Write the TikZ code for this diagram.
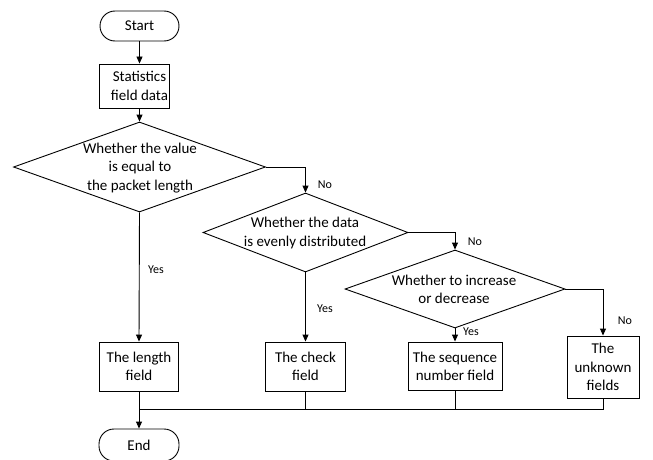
\documentclass[tikz,border=0pt]{standalone}
\usepackage{fontspec}
\setmainfont{Carlito}
\usetikzlibrary{shapes.geometric,arrows.meta}
\begin{document}
\begin{tikzpicture}[x=1pt,y=-1pt,
  line width=0.9pt,
  every node/.style={font=\fontsize{15}{18.3}\selectfont},
  box/.style={draw, align=center, inner sep=0pt},
  term/.style={draw, rounded corners=15pt, inner sep=0pt},
  dia/.style={draw, diamond, inner sep=0pt},
  lbl/.style={font=\fontsize{12}{14}\selectfont, inner sep=0pt},
  txt/.style={align=center, inner sep=0pt},
  arr/.style={-{Triangle[length=7pt,width=6pt]}},
]
\useasboundingbox (0,0) rectangle (653,460);

% nodes
\node[term, minimum width=79, minimum height=30] (start) at (139.5,26) {Start};
\node[box, minimum width=70, minimum height=44] (stats) at (134,86) {};
\node[txt] (statst) at (139.5,86) {Statistics\\field data};

\node[dia, minimum width=252, minimum height=90] (d1) at (139.5,167) {};
\node[txt] (d1t) at (140,168) {Whether the value\\is equal to\\the packet length};

\node[dia, minimum width=205, minimum height=79] (d2) at (305.5,232.5) {};
\node[txt] (d2t) at (305,233) {Whether the data\\is evenly distributed};

\node[dia, minimum width=220, minimum height=78] (d3) at (455,289) {};
\node[txt] (d3t) at (454,289.5) {Whether to increase\\or decrease};

\node[box, minimum width=79, minimum height=49] (length) at (139,366.5) {The length\\field};
\node[box, minimum width=80, minimum height=49] (check) at (305.5,366.5) {The check\\field};
\node[box, minimum width=94, minimum height=48] (seq) at (455,366) {The sequence\\number field};
\node[box, minimum width=72, minimum height=62] (unknown) at (603,367) {The\\unknown\\fields};

\node[term, minimum width=80, minimum height=32] (end) at (139,445) {End};

% labels
\node[lbl] (no1) at (325,185) {No};
\node[lbl] (no2) at (475,242) {No};
\node[lbl] (no3) at (625,321) {No};
\node[lbl] (yes1) at (156,270) {Yes};
\node[lbl] (yes2) at (325,309) {Yes};
\node[lbl] (yes3) at (471,332) {Yes};

% connectors
\draw[arr] (start.south) -- (start.south |- stats.north);
\draw[arr] (stats.south -| d1.north) -- (d1.north);
\draw[arr] (d1.east) -| (d2.north);
\draw[arr] (d2.east) -| (d3.north);
\draw[arr] (d3.east) -| (unknown.north);
\draw[arr] (d1.south) -- (length.north);
\draw[arr] (d2.south) -- (check.north);
\draw[arr] (d3.south) -- (seq.north);

\coordinate (mj) at (139,409);
\draw[arr] (length.south) -- (end.north);
\draw (mj) -| (unknown.south);
\draw (check.south) -- (check.south |- mj);
\draw (seq.south) -- (seq.south |- mj);
\end{tikzpicture}
\end{document}
